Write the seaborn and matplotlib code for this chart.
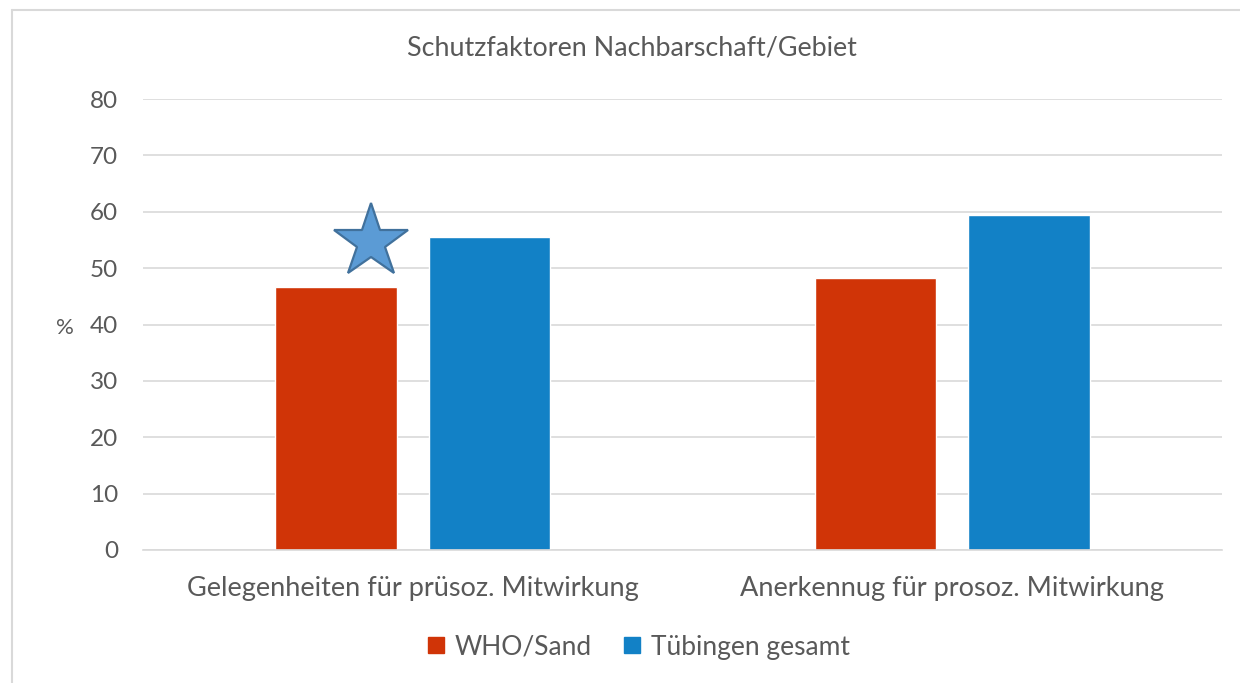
import pandas as pd
import matplotlib.pyplot as plt
import seaborn as sns
from matplotlib.lines import Line2D

categories = ["Gelegenheiten für prüsoz. Mitwirkung", "Anerkennug für prosoz. Mitwirkung"]
series_names = ["WHO/Sand", "Tübingen gesamt"]
who_sand = [46.6, 48.3]
tuebingen = [55.6, 59.5]
star_value = 54.7  # marker above first WHO/Sand bar

colors = ["#D03407", "#1281C6"]
text_col = "#595959"

df = pd.DataFrame({
    "Kategorie": categories * 2,
    "Gruppe": [series_names[0]] * 2 + [series_names[1]] * 2,
    "Wert": who_sand + tuebingen,
})

sns.set_theme(style="white")
plt.rcParams["font.family"] = ["Lato", "DejaVu Sans"]

fig = plt.figure(figsize=(12.4, 6.83), dpi=100)
ax = fig.add_axes([143 / 1240, 1 - 550 / 683, (1222 - 143) / 1240, (550 - 99) / 683])

sns.barplot(data=df, x="Kategorie", y="Wert", hue="Gruppe", palette=colors,
            width=0.57, gap=0.21, ax=ax, saturation=1, legend=False)

ax.set_xlim(-0.5, 1.5)
ax.set_ylim(0, 80)
ax.set_yticks(range(0, 81, 10))
ax.yaxis.grid(True, color="#D9D9D9", linewidth=1.2)
ax.set_axisbelow(True)
for s in ["top", "right", "left"]:
    ax.spines[s].set_visible(False)
ax.spines["bottom"].set_color("#D9D9D9")
ax.spines["bottom"].set_linewidth(1.2)
ax.tick_params(axis="y", labelsize=17.5, colors=text_col, length=0, pad=18)
ax.tick_params(axis="x", labelsize=19.5, colors=text_col, length=0, pad=19)
ax.set_xlabel("")
ax.set_ylabel("")
fig.text(65 / 1240, 1 - 328 / 683, "%", ha="center", va="center", fontsize=16, color=text_col)

# star annotation above first red bar
ax.plot([-0.078], [star_value], marker="*", markersize=56,
        markerfacecolor="#5B9BD5", markeredgecolor="#41719C", markeredgewidth=1.6,
        linestyle="none", zorder=5, clip_on=False)

fig.text(632 / 1240, 1 - 48 / 683, "Schutzfaktoren Nachbarschaft/Gebiet",
         ha="center", va="center", fontsize=19.4, color=text_col)

handles = [Line2D([0], [0], marker="s", linestyle="none", markersize=12,
                  markerfacecolor=c, markeredgecolor=c) for c in colors]
fig.legend(handles, series_names, loc="center", bbox_to_anchor=(637 / 1240, 1 - 647 / 683),
           ncol=2, frameon=False, fontsize=19, labelcolor=text_col,
           handletextpad=0.25, columnspacing=1.1, handlelength=0.9)

# outer frame lines (left and top only visible)
fig.add_artist(Line2D([12 / 1240, 12 / 1240], [0, 1 - 10 / 683], color="#D9D9D9",
                      linewidth=1.5, transform=fig.transFigure))
fig.add_artist(Line2D([12 / 1240, 1], [1 - 10 / 683, 1 - 10 / 683], color="#D9D9D9",
                      linewidth=1.5, transform=fig.transFigure))

fig.savefig("out.png", dpi=100)
